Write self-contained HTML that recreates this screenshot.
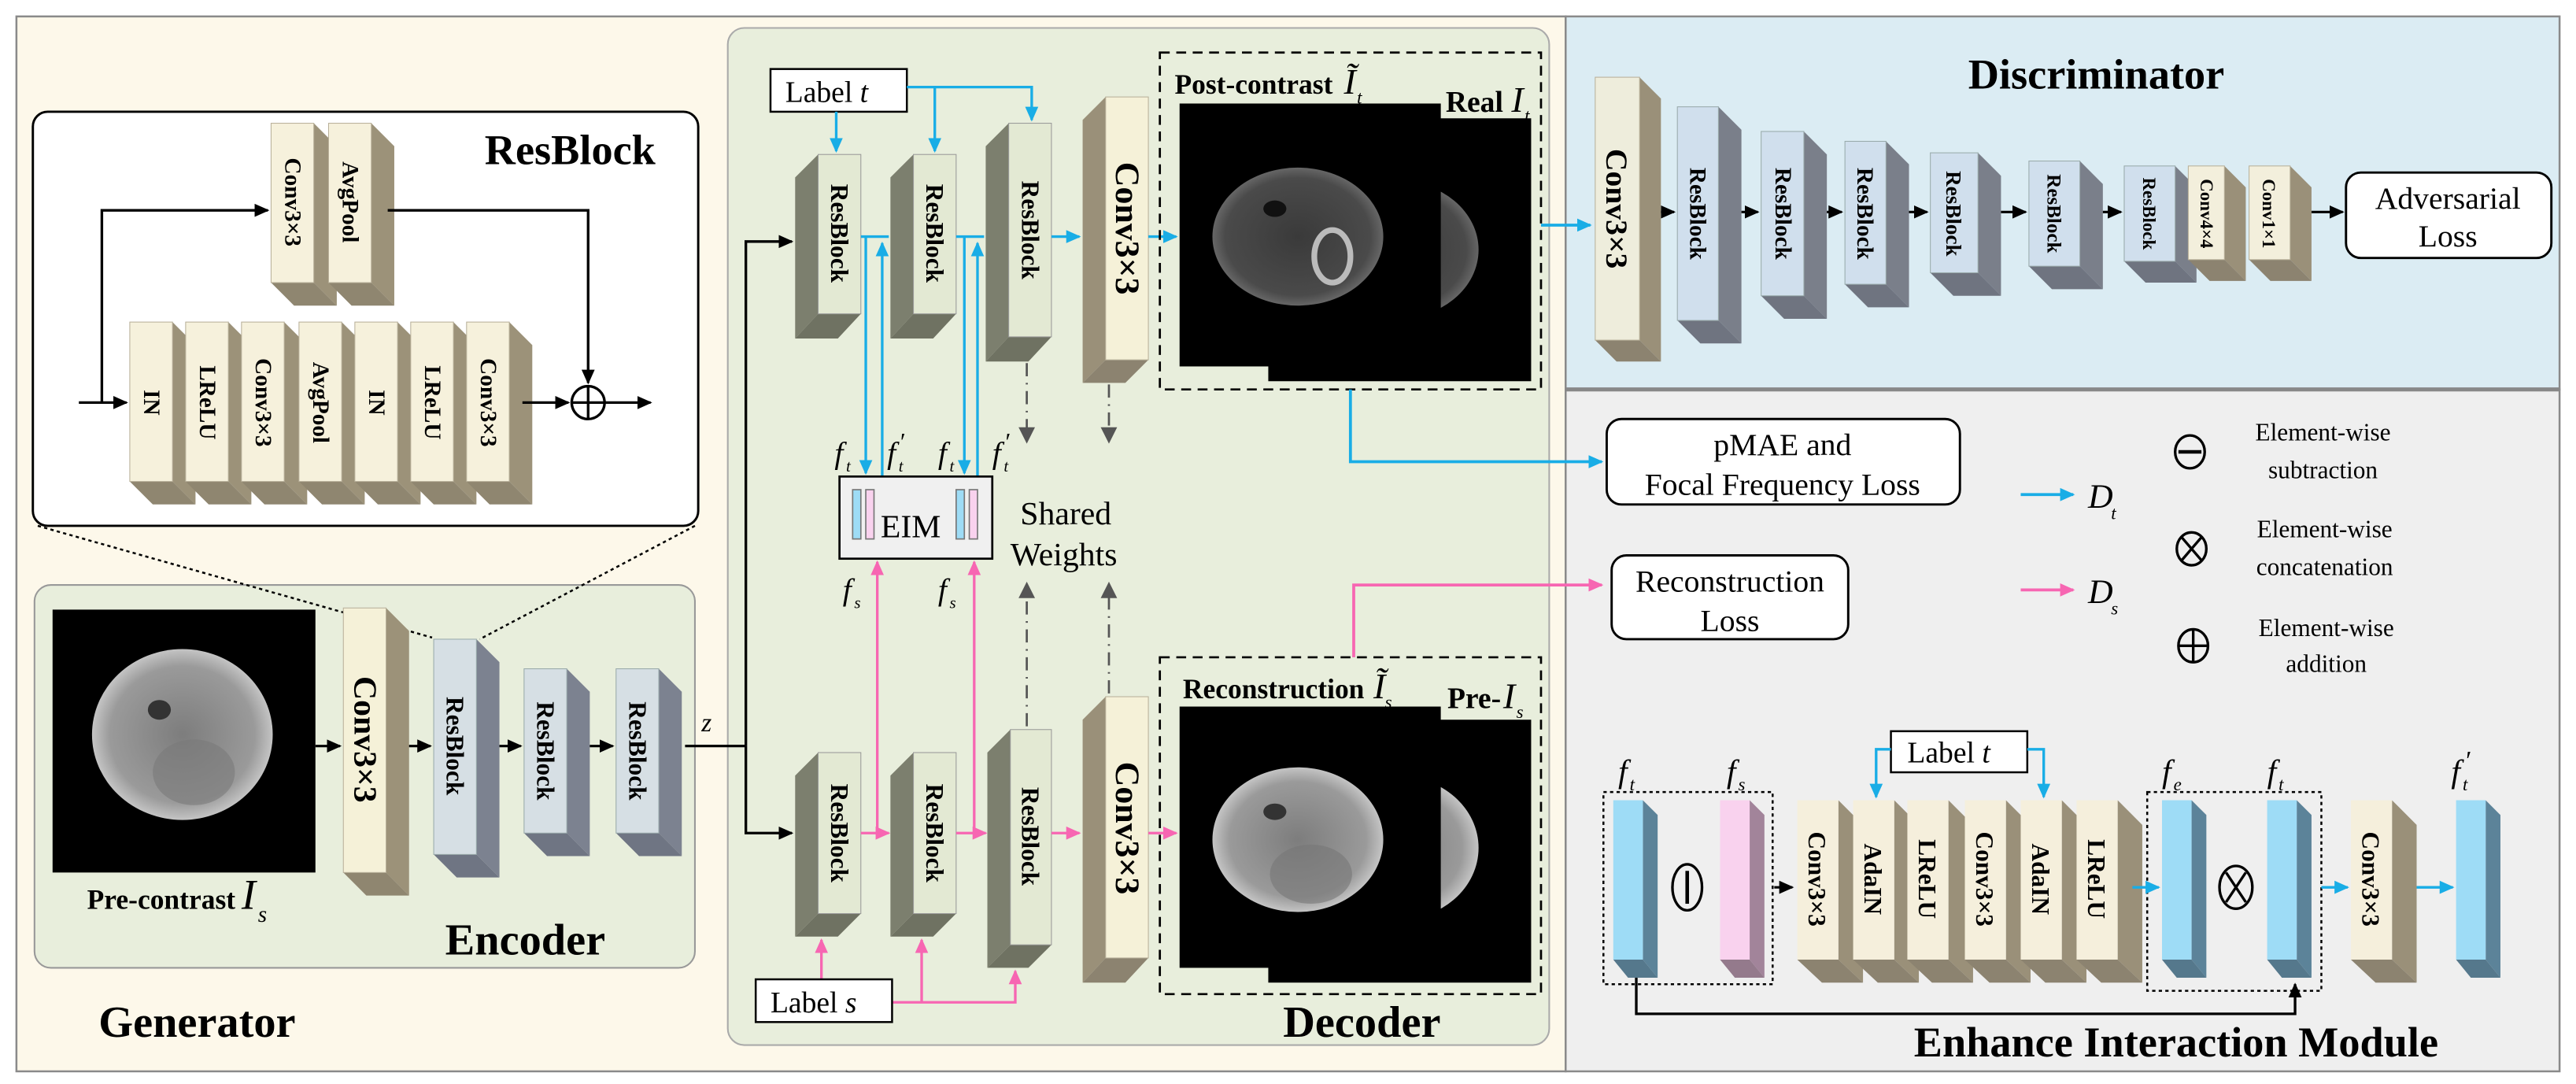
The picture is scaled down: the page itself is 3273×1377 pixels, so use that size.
<!DOCTYPE html>
<html><head><meta charset="utf-8"><style>
html,body{margin:0;padding:0;background:#fff;}
svg{display:block;}
text{font-family:"Liberation Serif",serif;}
.b{font-weight:bold;}
.i{font-style:italic;}
</style></head><body>
<svg width="3273" height="1377" viewBox="0 0 1568 659.7" preserveAspectRatio="none" xmlns="http://www.w3.org/2000/svg">
<defs>
<marker id="ak" markerWidth="10" markerHeight="10" refX="8" refY="5" orient="auto" markerUnits="userSpaceOnUse"><path d="M0,1 L9,5 L0,9 z" fill="#000"/></marker>
<marker id="ab" markerWidth="10" markerHeight="10" refX="8" refY="5" orient="auto" markerUnits="userSpaceOnUse"><path d="M0,1 L9,5 L0,9 z" fill="#19ade6"/></marker>
<marker id="ap" markerWidth="10" markerHeight="10" refX="8" refY="5" orient="auto" markerUnits="userSpaceOnUse"><path d="M0,1 L9,5 L0,9 z" fill="#f766b2"/></marker>
<marker id="ag" markerWidth="10" markerHeight="12" refX="8" refY="6" orient="auto" markerUnits="userSpaceOnUse"><path d="M0,1 L10,6 L0,11 z" fill="#555"/></marker>
<radialGradient id="br1" cx="50%" cy="50%" r="50%"><stop offset="0" stop-color="#7d7d7d"/><stop offset="0.8" stop-color="#9a9a9a"/><stop offset="1" stop-color="#c4c4c4"/></radialGradient>
<radialGradient id="br2" cx="50%" cy="50%" r="50%"><stop offset="0" stop-color="#3a3a3a"/><stop offset="0.85" stop-color="#4a4a4a"/><stop offset="1" stop-color="#666"/></radialGradient>
</defs>

<rect x="10" y="10" width="943" height="642" fill="#fdf8ea" stroke="#8a8a8a" stroke-width="1.2"/>
<rect x="953" y="10" width="605" height="227" fill="#dbecf3" stroke="#8a8a8a" stroke-width="1.2"/>
<rect x="953" y="237" width="605" height="415" fill="#efefef" stroke="#8a8a8a" stroke-width="1.2"/>
<line x1="953" y1="237" x2="1558" y2="237" stroke="#888" stroke-width="2.5"/>

<rect x="21" y="356" width="402" height="233" rx="10" fill="#e8eedc" stroke="#999" stroke-width="1"/>
<rect x="443" y="17" width="500" height="619" rx="10" fill="#e8eedc" stroke="#aaa" stroke-width="1"/>

<rect x="20" y="68" width="405" height="252" rx="9" fill="#fff" stroke="#000" stroke-width="1.4"/>
<text x="295" y="100" class="b" font-size="26">ResBlock</text>
<g>
<polygon points="191,75 205,89 205,186 191,172" fill="#9c9279"/><polygon points="165,172 191,172 205,186 179,186" fill="#8f8670"/><rect x="165" y="75" width="26" height="97" fill="#f6f1dc" stroke="#b8b09a" stroke-width="0.5"/>
<text transform="translate(178,123) rotate(90)" text-anchor="middle" dominant-baseline="central" class="b" font-size="14">Conv3×3</text>
<polygon points="226,75 240,89 240,186 226,172" fill="#9c9279"/><polygon points="200,172 226,172 240,186 214,186" fill="#8f8670"/><rect x="200" y="75" width="26" height="97" fill="#f6f1dc" stroke="#b8b09a" stroke-width="0.5"/>
<text transform="translate(213,123) rotate(90)" text-anchor="middle" dominant-baseline="central" class="b" font-size="14">AvgPool</text>
</g>
<g font-size="14" class="b">
<polygon points="105,196 119,210 119,307 105,293" fill="#9c9279"/><polygon points="79,293 105,293 119,307 93,307" fill="#8f8670"/><rect x="79" y="196" width="26" height="97" fill="#f6f1dc" stroke="#b8b09a" stroke-width="0.5"/>
<text transform="translate(92,245) rotate(90)" text-anchor="middle" dominant-baseline="central">IN</text>
<polygon points="139,196 153,210 153,307 139,293" fill="#9c9279"/><polygon points="113,293 139,293 153,307 127,307" fill="#8f8670"/><rect x="113" y="196" width="26" height="97" fill="#f6f1dc" stroke="#b8b09a" stroke-width="0.5"/>
<text transform="translate(126,245) rotate(90)" text-anchor="middle" dominant-baseline="central">LReLU</text>
<polygon points="173,196 187,210 187,307 173,293" fill="#9c9279"/><polygon points="147,293 173,293 187,307 161,307" fill="#8f8670"/><rect x="147" y="196" width="26" height="97" fill="#f6f1dc" stroke="#b8b09a" stroke-width="0.5"/>
<text transform="translate(160,245) rotate(90)" text-anchor="middle" dominant-baseline="central">Conv3×3</text>
<polygon points="208,196 222,210 222,307 208,293" fill="#9c9279"/><polygon points="182,293 208,293 222,307 196,307" fill="#8f8670"/><rect x="182" y="196" width="26" height="97" fill="#f6f1dc" stroke="#b8b09a" stroke-width="0.5"/>
<text transform="translate(195,245) rotate(90)" text-anchor="middle" dominant-baseline="central">AvgPool</text>
<polygon points="242,196 256,210 256,307 242,293" fill="#9c9279"/><polygon points="216,293 242,293 256,307 230,307" fill="#8f8670"/><rect x="216" y="196" width="26" height="97" fill="#f6f1dc" stroke="#b8b09a" stroke-width="0.5"/>
<text transform="translate(229,245) rotate(90)" text-anchor="middle" dominant-baseline="central">IN</text>
<polygon points="276,196 290,210 290,307 276,293" fill="#9c9279"/><polygon points="250,293 276,293 290,307 264,307" fill="#8f8670"/><rect x="250" y="196" width="26" height="97" fill="#f6f1dc" stroke="#b8b09a" stroke-width="0.5"/>
<text transform="translate(263,245) rotate(90)" text-anchor="middle" dominant-baseline="central">LReLU</text>
<polygon points="310,196 324,210 324,307 310,293" fill="#9c9279"/><polygon points="284,293 310,293 324,307 298,307" fill="#8f8670"/><rect x="284" y="196" width="26" height="97" fill="#f6f1dc" stroke="#b8b09a" stroke-width="0.5"/>
<text transform="translate(297,245) rotate(90)" text-anchor="middle" dominant-baseline="central">Conv3×3</text>
</g>
<g stroke="#000" stroke-width="1.6" fill="none">
<line x1="48" y1="245" x2="77" y2="245" marker-end="url(#ak)"/>
<polyline points="62,245 62,128 163,128" marker-end="url(#ak)"/>
<polyline points="236,128 358,128 358,233" marker-end="url(#ak)"/>
<line x1="318" y1="245" x2="346" y2="245" marker-end="url(#ak)"/>
<line x1="368" y1="245" x2="396" y2="245" marker-end="url(#ak)"/>
<circle cx="358" cy="245" r="10"/>
<line x1="348" y1="245" x2="368" y2="245"/><line x1="358" y1="235" x2="358" y2="255"/>
</g>
<line x1="23" y1="320" x2="263" y2="388" stroke="#000" stroke-width="1.2" stroke-dasharray="2,2"/>
<line x1="423" y1="320" x2="292" y2="389" stroke="#000" stroke-width="1.2" stroke-dasharray="2,2"/>

<rect x="32" y="371" width="160" height="160" fill="#000"/>
<ellipse cx="111" cy="447" rx="55" ry="52" fill="url(#br1)"/>
<ellipse cx="97" cy="432" rx="7" ry="6" fill="#333"/>
<ellipse cx="118" cy="470" rx="25" ry="20" fill="#7a7a7a" opacity="0.6"/>
<text x="53" y="553" class="b" font-size="17">Pre-contrast</text>
<text x="147" y="553" class="i" font-size="26">I</text><text x="157" y="561" class="i" font-size="14">s</text>
<polygon points="235,370 249,384 249,545 235,531" fill="#9c9279"/><polygon points="209,531 235,531 249,545 223,545" fill="#8f8670"/><rect x="209" y="370" width="26" height="161" fill="#f5f1d8" stroke="#b8b09a" stroke-width="0.5"/>
<text transform="translate(222,450) rotate(90)" text-anchor="middle" dominant-baseline="central" class="b" font-size="20">Conv3×3</text>
<polygon points="290,389 304,403 304,534 290,520" fill="#7c8290"/><polygon points="264,520 290,520 304,534 278,534" fill="#6f7583"/><rect x="264" y="389" width="26" height="131" fill="#d6dfe4" stroke="#9aa" stroke-width="0.5"/>
<text transform="translate(277,454) rotate(90)" text-anchor="middle" dominant-baseline="central" class="b" font-size="15">ResBlock</text>
<polygon points="345,407 359,421 359,521 345,507" fill="#7c8290"/><polygon points="319,507 345,507 359,521 333,521" fill="#6f7583"/><rect x="319" y="407" width="26" height="100" fill="#d6dfe4" stroke="#9aa" stroke-width="0.5"/>
<text transform="translate(332,457) rotate(90)" text-anchor="middle" dominant-baseline="central" class="b" font-size="15">ResBlock</text>
<polygon points="401,407 415,421 415,521 401,507" fill="#7c8290"/><polygon points="375,507 401,507 415,521 389,521" fill="#6f7583"/><rect x="375" y="407" width="26" height="100" fill="#d6dfe4" stroke="#9aa" stroke-width="0.5"/>
<text transform="translate(388,457) rotate(90)" text-anchor="middle" dominant-baseline="central" class="b" font-size="15">ResBlock</text>
<g stroke="#000" stroke-width="1.5">
<line x1="192" y1="454" x2="207" y2="454" marker-end="url(#ak)"/>
<line x1="249" y1="454" x2="262" y2="454" marker-end="url(#ak)"/>
<line x1="304" y1="454" x2="317" y2="454" marker-end="url(#ak)"/>
<line x1="359" y1="454" x2="373" y2="454" marker-end="url(#ak)"/>
</g>
<text x="271" y="581" class="b" font-size="27">Encoder</text>
<text x="60" y="631" class="b" font-size="27">Generator</text>
<text x="427" y="445" class="i" font-size="16">z</text>
<g stroke="#000" stroke-width="1.6" fill="none">
<polyline points="417,454 454,454"/>
<polyline points="454,454 454,147 482,147" marker-end="url(#ak)"/>
<polyline points="454,454 454,507 482,507" marker-end="url(#ak)"/>
</g>

<rect x="469" y="42" width="83" height="26" fill="#fff" stroke="#000" stroke-width="1.2"/>
<text x="478" y="62" font-size="18">Label <tspan class="i">t</tspan></text>
<g stroke="#19ade6" stroke-width="1.6" fill="none">
<line x1="509" y1="68" x2="509" y2="92" marker-end="url(#ab)"/>
<polyline points="552,53 628,53 628,73" marker-end="url(#ab)"/>
<line x1="569" y1="53" x2="569" y2="92" marker-end="url(#ab)"/>
</g>
<g class="b">
<polygon points="498,94 484,108 484,206 498,191" fill="#7c7f6e"/><polygon points="498,191 524,191 510,206 484,206" fill="#6f7262"/><rect x="498" y="94" width="26" height="97" fill="#e3e9d3" stroke="#999" stroke-width="0.5"/>
<text transform="translate(511,142) rotate(90)" text-anchor="middle" dominant-baseline="central" font-size="15">ResBlock</text>
<polygon points="556,94 542,108 542,206 556,191" fill="#7c7f6e"/><polygon points="556,191 582,191 568,206 542,206" fill="#6f7262"/><rect x="556" y="94" width="26" height="97" fill="#e3e9d3" stroke="#999" stroke-width="0.5"/>
<text transform="translate(569,142) rotate(90)" text-anchor="middle" dominant-baseline="central" font-size="15">ResBlock</text>
<polygon points="614,75 600,89 600,220 614,205" fill="#7c7f6e"/><polygon points="614,205 640,205 626,220 600,220" fill="#6f7262"/><rect x="614" y="75" width="26" height="130" fill="#e3e9d3" stroke="#999" stroke-width="0.5"/>
<text transform="translate(627,140) rotate(90)" text-anchor="middle" dominant-baseline="central" font-size="15">ResBlock</text>
<polygon points="673,59 659,73 659,233 673,219" fill="#9a9079"/><polygon points="673,219 699,219 685,233 659,233" fill="#8c8370"/><rect x="673" y="59" width="26" height="160" fill="#f5f1d8" stroke="#b8b09a" stroke-width="0.5"/>
<text transform="translate(686,139) rotate(90)" text-anchor="middle" dominant-baseline="central" font-size="21">Conv3×3</text>
</g>
<g stroke="#19ade6" stroke-width="1.6" fill="none">
<line x1="524" y1="144" x2="541" y2="144"/>
<line x1="582" y1="144" x2="599" y2="144"/>
<line x1="640" y1="144" x2="657" y2="144" marker-end="url(#ab)"/>
<line x1="699" y1="144" x2="716" y2="144" marker-end="url(#ab)"/>
<line x1="527" y1="144" x2="527" y2="288" marker-end="url(#ab)"/>
<line x1="537" y1="290" x2="537" y2="148" marker-end="url(#ab)"/>
<line x1="587" y1="144" x2="587" y2="288" marker-end="url(#ab)"/>
<line x1="595" y1="290" x2="595" y2="148" marker-end="url(#ab)"/>
</g>
<rect x="706" y="32" width="232" height="205" fill="none" stroke="#000" stroke-width="1.3" stroke-dasharray="6,4"/>
<rect x="772" y="72" width="160" height="160" fill="#000"/>
<ellipse cx="850" cy="152" rx="50" ry="42" fill="url(#br2)"/>
<rect x="718" y="63" width="159" height="160" fill="#000"/>
<ellipse cx="790" cy="144" rx="52" ry="42" fill="url(#br2)"/>
<ellipse cx="776" cy="127" rx="7" ry="5" fill="#111"/>
<ellipse cx="811" cy="156" rx="11" ry="16" fill="none" stroke="#bbb" stroke-width="3.5"/>
<text x="715" y="57" class="b" font-size="17">Post-contrast</text>
<text x="818" y="57" class="i" font-size="22">Ĩ</text><text x="826" y="63" class="i" font-size="11">t</text>
<text x="880" y="68" class="b" font-size="18">Real</text>
<text x="920" y="68" class="i" font-size="22">I</text><text x="928" y="74" class="i" font-size="11">t</text>
<line x1="938" y1="137" x2="968" y2="137" stroke="#19ade6" stroke-width="1.8" marker-end="url(#ab)"/>
<polyline points="822,237 822,281 975,281" stroke="#19ade6" stroke-width="1.8" fill="none" marker-end="url(#ab)"/>

<rect x="511" y="290" width="93" height="50" fill="#f0f0f0" stroke="#000" stroke-width="1.3"/>
<rect x="519" y="298" width="5" height="30" fill="#9edcf6" stroke="#777" stroke-width="0.8"/>
<rect x="527" y="298" width="5" height="30" fill="#f9d2ee" stroke="#777" stroke-width="0.8"/>
<rect x="582" y="298" width="5" height="30" fill="#9edcf6" stroke="#777" stroke-width="0.8"/>
<rect x="590" y="298" width="5" height="30" fill="#f9d2ee" stroke="#777" stroke-width="0.8"/>
<text x="536" y="327" font-size="20">EIM</text>
<g class="i" font-size="19">
<text x="508" y="282">f</text><text x="515" y="287" font-size="10">t</text>
<text x="540" y="282">f</text><text x="547" y="287" font-size="10">t</text>
<text x="571" y="282">f</text><text x="578" y="287" font-size="10">t</text>
<text x="604" y="282">f</text><text x="611" y="287" font-size="10">t</text>
<text x="513" y="365">f</text><text x="520" y="370" font-size="10">s</text>
<text x="571" y="365">f</text><text x="578" y="370" font-size="10">s</text>
</g>
<g font-size="15"><text x="548" y="274">′</text><text x="612" y="274">′</text></g>
<g stroke="#555" stroke-width="1.3" fill="none" stroke-dasharray="8,4,1,4">
<line x1="625" y1="221" x2="625" y2="268" marker-end="url(#ag)"/>
<line x1="675" y1="234" x2="675" y2="268" marker-end="url(#ag)"/>
<line x1="625" y1="442" x2="625" y2="356" marker-end="url(#ag)"/>
<line x1="675" y1="422" x2="675" y2="356" marker-end="url(#ag)"/>
</g>
<text x="621" y="319" font-size="20">Shared</text>
<text x="615" y="344" font-size="20">Weights</text>

<g class="b">
<polygon points="498,458 484,472 484,570 498,556" fill="#7c7f6e"/><polygon points="498,556 524,556 510,570 484,570" fill="#6f7262"/><rect x="498" y="458" width="26" height="98" fill="#e3e9d3" stroke="#999" stroke-width="0.5"/>
<text transform="translate(511,507) rotate(90)" text-anchor="middle" dominant-baseline="central" font-size="15">ResBlock</text>
<polygon points="556,458 542,472 542,570 556,556" fill="#7c7f6e"/><polygon points="556,556 582,556 568,570 542,570" fill="#6f7262"/><rect x="556" y="458" width="26" height="98" fill="#e3e9d3" stroke="#999" stroke-width="0.5"/>
<text transform="translate(569,507) rotate(90)" text-anchor="middle" dominant-baseline="central" font-size="15">ResBlock</text>
<polygon points="615,444 601,458 601,589 615,575" fill="#7c7f6e"/><polygon points="615,575 640,575 626,589 601,589" fill="#6f7262"/><rect x="615" y="444" width="25" height="131" fill="#e3e9d3" stroke="#999" stroke-width="0.5"/>
<text transform="translate(627,509) rotate(90)" text-anchor="middle" dominant-baseline="central" font-size="15">ResBlock</text>
<polygon points="673,424 659,438 659,598 673,583" fill="#9a9079"/><polygon points="673,583 699,583 685,598 659,598" fill="#8c8370"/><rect x="673" y="424" width="26" height="159" fill="#f5f1d8" stroke="#b8b09a" stroke-width="0.5"/>
<text transform="translate(686,504) rotate(90)" text-anchor="middle" dominant-baseline="central" font-size="21">Conv3×3</text>
</g>
<g stroke="#f766b2" stroke-width="1.6" fill="none">
<line x1="524" y1="507" x2="541" y2="507" marker-end="url(#ap)"/>
<line x1="582" y1="507" x2="600" y2="507" marker-end="url(#ap)"/>
<line x1="640" y1="507" x2="657" y2="507" marker-end="url(#ap)"/>
<line x1="699" y1="507" x2="716" y2="507" marker-end="url(#ap)"/>
<line x1="534" y1="507" x2="534" y2="342" marker-end="url(#ap)"/>
<line x1="593" y1="507" x2="593" y2="342" marker-end="url(#ap)"/>
<line x1="500" y1="596" x2="500" y2="572" marker-end="url(#ap)"/>
<polyline points="543,610 618,610 618,591" marker-end="url(#ap)"/>
<line x1="561" y1="610" x2="561" y2="572" marker-end="url(#ap)"/>
<polyline points="824,400 824,356 975,356" stroke-width="1.8" marker-end="url(#ap)"/>
</g>
<rect x="460" y="596" width="83" height="26" fill="#fff" stroke="#000" stroke-width="1.2"/>
<text x="469" y="616" font-size="18">Label <tspan class="i">s</tspan></text>
<rect x="706" y="400" width="232" height="205" fill="none" stroke="#000" stroke-width="1.3" stroke-dasharray="6,4"/>
<rect x="772" y="438" width="160" height="160" fill="#000"/>
<ellipse cx="850" cy="516" rx="50" ry="44" fill="url(#br1)"/>
<rect x="718" y="430" width="159" height="159" fill="#000"/>
<ellipse cx="790" cy="511" rx="52" ry="44" fill="url(#br1)"/>
<ellipse cx="776" cy="494" rx="7" ry="5" fill="#333"/>
<ellipse cx="798" cy="532" rx="25" ry="18" fill="#777" opacity="0.6"/>
<text x="720" y="425" class="b" font-size="17">Reconstruction</text>
<text x="836" y="425" class="i" font-size="22">Ĩ</text><text x="843" y="431" class="i" font-size="11">s</text>
<text x="881" y="431" class="b" font-size="18">Pre-</text>
<text x="915" y="431" class="i" font-size="22">I</text><text x="923" y="437" class="i" font-size="11">s</text>
<text x="781" y="631" class="b" font-size="27">Decoder</text>

<text x="1276" y="54" text-anchor="middle" class="b" font-size="26">Discriminator</text>
<g class="b">
<polygon points="998,47 1011,60 1011,220 998,207" fill="#9a9079"/><polygon points="971,207 998,207 1011,220 984,220" fill="#8c8370"/><rect x="971" y="47" width="27" height="160" fill="#eeeddc" stroke="#b8b09a" stroke-width="0.5"/>
<text transform="translate(984,127) rotate(90)" text-anchor="middle" dominant-baseline="central" font-size="19">Conv3×3</text>
<polygon points="1046,65 1060,79 1060,209 1046,195" fill="#7a7f8a"/><polygon points="1021,195 1046,195 1060,209 1035,209" fill="#6f7480"/><rect x="1021" y="65" width="25" height="130" fill="#d0dfed" stroke="#9aa" stroke-width="0.5"/>
<text transform="translate(1033,130) rotate(90)" text-anchor="middle" dominant-baseline="central" font-size="14">ResBlock</text>
<polygon points="1098,80 1112,94 1112,194 1098,180" fill="#7a7f8a"/><polygon points="1072,180 1098,180 1112,194 1086,194" fill="#6f7480"/><rect x="1072" y="80" width="26" height="100" fill="#d0dfed" stroke="#9aa" stroke-width="0.5"/>
<text transform="translate(1085,130) rotate(90)" text-anchor="middle" dominant-baseline="central" font-size="14">ResBlock</text>
<polygon points="1148,86 1162,100 1162,187 1148,173" fill="#7a7f8a"/><polygon points="1123,173 1148,173 1162,187 1137,187" fill="#6f7480"/><rect x="1123" y="86" width="25" height="87" fill="#d0dfed" stroke="#9aa" stroke-width="0.5"/>
<text transform="translate(1135,130) rotate(90)" text-anchor="middle" dominant-baseline="central" font-size="14">ResBlock</text>
<polygon points="1204,93 1218,107 1218,180 1204,166" fill="#7a7f8a"/><polygon points="1175,166 1204,166 1218,180 1189,180" fill="#6f7480"/><rect x="1175" y="93" width="29" height="73" fill="#d0dfed" stroke="#9aa" stroke-width="0.5"/>
<text transform="translate(1189,130) rotate(90)" text-anchor="middle" dominant-baseline="central" font-size="13">ResBlock</text>
<polygon points="1266,98 1280,112 1280,176 1266,162" fill="#7a7f8a"/><polygon points="1235,162 1266,162 1280,176 1249,176" fill="#6f7480"/><rect x="1235" y="98" width="31" height="64" fill="#d0dfed" stroke="#9aa" stroke-width="0.5"/>
<text transform="translate(1250,130) rotate(90)" text-anchor="middle" dominant-baseline="central" font-size="12">ResBlock</text>
<polygon points="1324,101 1337,114 1337,172 1324,159" fill="#7a7f8a"/><polygon points="1293,159 1324,159 1337,172 1306,172" fill="#6f7480"/><rect x="1293" y="101" width="31" height="58" fill="#d0dfed" stroke="#9aa" stroke-width="0.5"/>
<text transform="translate(1308,130) rotate(90)" text-anchor="middle" dominant-baseline="central" font-size="11">ResBlock</text>
<polygon points="1354,101 1367,114 1367,171 1354,158" fill="#9a9079"/><polygon points="1332,158 1354,158 1367,171 1345,171" fill="#8c8370"/><rect x="1332" y="101" width="22" height="57" fill="#f3efdc" stroke="#b8b09a" stroke-width="0.5"/>
<text transform="translate(1343,130) rotate(90)" text-anchor="middle" dominant-baseline="central" font-size="11">Conv4×4</text>
<polygon points="1394,101 1407,114 1407,171 1394,158" fill="#9a9079"/><polygon points="1369,158 1394,158 1407,171 1382,171" fill="#8c8370"/><rect x="1369" y="101" width="25" height="57" fill="#f3efdc" stroke="#b8b09a" stroke-width="0.5"/>
<text transform="translate(1381,130) rotate(90)" text-anchor="middle" dominant-baseline="central" font-size="11">Conv1×1</text>
</g>
<g stroke="#000" stroke-width="1.5">
<line x1="1011" y1="129" x2="1019" y2="129" marker-end="url(#ak)"/>
<line x1="1060" y1="129" x2="1070" y2="129" marker-end="url(#ak)"/>
<line x1="1112" y1="129" x2="1121" y2="129" marker-end="url(#ak)"/>
<line x1="1162" y1="129" x2="1173" y2="129" marker-end="url(#ak)"/>
<line x1="1218" y1="129" x2="1233" y2="129" marker-end="url(#ak)"/>
<line x1="1280" y1="129" x2="1291" y2="129" marker-end="url(#ak)"/>
<line x1="1407" y1="129" x2="1426" y2="129" marker-end="url(#ak)"/>
</g>
<rect x="1428" y="105" width="125" height="52" rx="9" fill="#fff" stroke="#000" stroke-width="1.4"/>
<text x="1490" y="127" text-anchor="middle" font-size="19">Adversarial</text>
<text x="1490" y="150" text-anchor="middle" font-size="19">Loss</text>

<rect x="978" y="255" width="215" height="52" rx="9" fill="#fff" stroke="#000" stroke-width="1.4"/>
<text x="1085" y="277" text-anchor="middle" font-size="19">pMAE and</text>
<text x="1085" y="301" text-anchor="middle" font-size="19">Focal Frequency Loss</text>
<rect x="981" y="338" width="144" height="51" rx="9" fill="#fff" stroke="#000" stroke-width="1.4"/>
<text x="1053" y="360" text-anchor="middle" font-size="19">Reconstruction</text>
<text x="1053" y="384" text-anchor="middle" font-size="19">Loss</text>

<line x1="1230" y1="301" x2="1262" y2="301" stroke="#19ade6" stroke-width="1.8" marker-end="url(#ab)"/>
<text x="1271" y="309" class="i" font-size="21">D</text><text x="1285" y="316" class="i" font-size="11">t</text>
<line x1="1230" y1="359" x2="1262" y2="359" stroke="#f766b2" stroke-width="1.8" marker-end="url(#ap)"/>
<text x="1271" y="367" class="i" font-size="21">D</text><text x="1285" y="374" class="i" font-size="11">s</text>
<g stroke="#000" stroke-width="1.6" fill="none">
<ellipse cx="1333" cy="275" rx="9" ry="10"/><line x1="1326" y1="275" x2="1340" y2="275" stroke-width="2.2"/>
<ellipse cx="1334" cy="334" rx="9" ry="10"/><line x1="1328" y1="327" x2="1340" y2="341"/><line x1="1340" y1="327" x2="1328" y2="341"/>
<ellipse cx="1335" cy="393" rx="9" ry="10"/><line x1="1326" y1="393" x2="1344" y2="393"/><line x1="1335" y1="383" x2="1335" y2="403"/>
</g>
<g font-size="15" text-anchor="middle">
<text x="1414" y="268">Element-wise</text><text x="1414" y="291">subtraction</text>
<text x="1415" y="327">Element-wise</text><text x="1415" y="350">concatenation</text>
<text x="1416" y="387">Element-wise</text><text x="1416" y="409">addition</text>
</g>

<rect x="976" y="482" width="103" height="117" fill="none" stroke="#000" stroke-width="1.2" stroke-dasharray="2,2"/>
<rect x="1307" y="482" width="106" height="121" fill="none" stroke="#000" stroke-width="1.2" stroke-dasharray="2,2"/>
<polygon points="1000,487 1009,496 1009,595 1000,584" fill="#5c8399"/><polygon points="982,584 1000,584 1009,595 991,595" fill="#55788c"/><rect x="982" y="487" width="18" height="97" fill="#9edcf6"/>
<polygon points="1065,487 1074,496 1074,595 1065,584" fill="#a2849a"/><polygon points="1047,584 1065,584 1074,595 1056,595" fill="#947a8c"/><rect x="1047" y="487" width="18" height="97" fill="#f9d2ee"/>
<g stroke="#000" stroke-width="1.6" fill="none"><ellipse cx="1027" cy="540" rx="9" ry="14"/><line x1="1027" y1="530" x2="1027" y2="550" stroke-width="2.2"/></g>
<line x1="1080" y1="540" x2="1091" y2="540" stroke="#000" stroke-width="1.5" marker-end="url(#ak)"/>
<g class="b" font-size="15">
<polygon points="1119,487 1134,502 1134,598 1119,584" fill="#9a9079"/><polygon points="1094,584 1119,584 1134,598 1109,598" fill="#8c8370"/><rect x="1094" y="487" width="25" height="97" fill="#f5efdc"/>
<text transform="translate(1106,535) rotate(90)" text-anchor="middle" dominant-baseline="central">Conv3×3</text>
<polygon points="1153,487 1168,502 1168,598 1153,584" fill="#9a9079"/><polygon points="1128,584 1153,584 1168,598 1143,598" fill="#8c8370"/><rect x="1128" y="487" width="25" height="97" fill="#f5efdc"/>
<text transform="translate(1140,535) rotate(90)" text-anchor="middle" dominant-baseline="central">AdaIN</text>
<polygon points="1186,487 1201,502 1201,598 1186,584" fill="#9a9079"/><polygon points="1161,584 1186,584 1201,598 1176,598" fill="#8c8370"/><rect x="1161" y="487" width="25" height="97" fill="#f5efdc"/>
<text transform="translate(1173,535) rotate(90)" text-anchor="middle" dominant-baseline="central">LReLU</text>
<polygon points="1221,487 1236,502 1236,598 1221,584" fill="#9a9079"/><polygon points="1196,584 1221,584 1236,598 1211,598" fill="#8c8370"/><rect x="1196" y="487" width="25" height="97" fill="#f5efdc"/>
<text transform="translate(1208,535) rotate(90)" text-anchor="middle" dominant-baseline="central">Conv3×3</text>
<polygon points="1255,487 1270,502 1270,598 1255,584" fill="#9a9079"/><polygon points="1230,584 1255,584 1270,598 1245,598" fill="#8c8370"/><rect x="1230" y="487" width="25" height="97" fill="#f5efdc"/>
<text transform="translate(1242,535) rotate(90)" text-anchor="middle" dominant-baseline="central">AdaIN</text>
<polygon points="1289,487 1304,502 1304,598 1289,584" fill="#9a9079"/><polygon points="1264,584 1289,584 1304,598 1279,598" fill="#8c8370"/><rect x="1264" y="487" width="25" height="97" fill="#f5efdc"/>
<text transform="translate(1276,535) rotate(90)" text-anchor="middle" dominant-baseline="central">LReLU</text>
</g>
<rect x="1151" y="445" width="83" height="25" fill="#fff" stroke="#000" stroke-width="1.2"/>
<text x="1161" y="464" font-size="18">Label <tspan class="i">t</tspan></text>
<g stroke="#19ade6" stroke-width="1.6" fill="none">
<polyline points="1151,456 1142,456 1142,485" marker-end="url(#ab)"/>
<polyline points="1234,456 1244,456 1244,485" marker-end="url(#ab)"/>
<line x1="1298" y1="540" x2="1314" y2="540" marker-end="url(#ab)"/>
<line x1="1413" y1="540" x2="1429" y2="540" marker-end="url(#ab)"/>
<line x1="1471" y1="540" x2="1493" y2="540" marker-end="url(#ab)"/>
</g>
<polygon points="1334,487 1343,496 1343,595 1334,584" fill="#5c8399"/><polygon points="1316,584 1334,584 1343,595 1325,595" fill="#55788c"/><rect x="1316" y="487" width="18" height="97" fill="#9edcf6"/>
<g stroke="#000" stroke-width="1.6" fill="none"><ellipse cx="1361" cy="540" rx="10" ry="13"/><line x1="1355" y1="531" x2="1367" y2="549"/><line x1="1367" y1="531" x2="1355" y2="549"/></g>
<polygon points="1398,487 1407,496 1407,595 1398,584" fill="#5c8399"/><polygon points="1380,584 1398,584 1407,595 1389,595" fill="#55788c"/><rect x="1380" y="487" width="18" height="97" fill="#9edcf6"/>
<polygon points="1456,487 1471,502 1471,598 1456,584" fill="#9a9079"/><polygon points="1431,584 1456,584 1471,598 1446,598" fill="#8c8370"/><rect x="1431" y="487" width="25" height="97" fill="#f5efdc"/>
<text transform="translate(1443,535) rotate(90)" text-anchor="middle" dominant-baseline="central" class="b" font-size="15">Conv3×3</text>
<polygon points="1513,487 1522,496 1522,595 1513,584" fill="#5c8399"/><polygon points="1495,584 1513,584 1522,595 1504,595" fill="#55788c"/><rect x="1495" y="487" width="18" height="97" fill="#9edcf6"/>
<polyline points="996,595 996,617 1397,617 1397,599" stroke="#000" stroke-width="1.6" fill="none" marker-end="url(#ak)"/>
<g class="i" font-size="20">
<text x="985" y="476">f</text><text x="992" y="481" font-size="11">t</text>
<text x="1051" y="476">f</text><text x="1058" y="481" font-size="11">s</text>
<text x="1316" y="476">f</text><text x="1323" y="481" font-size="11">e</text>
<text x="1380" y="476">f</text><text x="1387" y="481" font-size="11">t</text>
<text x="1492" y="476">f</text><text x="1499" y="481" font-size="11">t</text>
</g>
<text x="1501" y="468" font-size="16">′</text>
<text x="1165" y="643" class="b" font-size="26">Enhance Interaction Module</text>
</svg>
</body></html>
